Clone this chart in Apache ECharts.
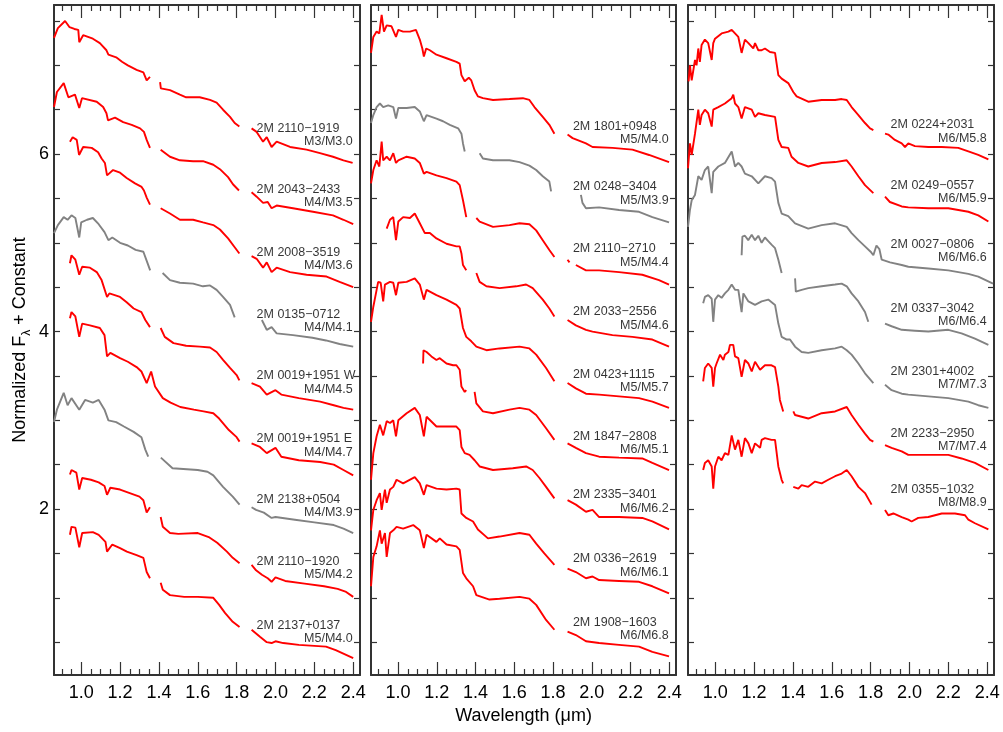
<!DOCTYPE html>
<html><head><meta charset="utf-8">
<script src="https://cdn.jsdelivr.net/npm/echarts@6/dist/echarts.min.js"></script>
<style>html,body{margin:0;padding:0;background:#fff}#c{width:1003px;height:732px}</style>
</head><body><div id="c"></div>
<script>
// ---------- axis values ----------
const X_MIN = 0.86, X_MAX = 2.435, Y_MIN = 0.13, Y_MAX = 7.68;
const xMajor = [1.0,1.2,1.4,1.6,1.8,2.0,2.2,2.4];
const xMinor = [0.9,0.95,1.05,1.1,1.15,1.25,1.3,1.35,1.45,1.5,1.55,1.65,1.7,1.75,1.85,1.9,1.95,2.05,2.1,2.15,2.25,2.3,2.35];
const yTicks = [0.5,1,1.5,2,2.5,3,3.5,4,4.5,5,5.5,6,6.5,7,7.5];
const yLabels = [2,4,6];

// ---------- panel 1 spectra: [wavelength, flux] segments ----------
const s_2110_1919 = [
 [[0.86,7.31],[0.88,7.42],[0.917,7.50],[0.94,7.43],[0.965,7.41],[0.985,7.40],[0.99,7.26],[1.01,7.34],[1.06,7.30],[1.096,7.25],[1.13,7.17],[1.14,7.12],[1.18,7.09],[1.21,7.04],[1.24,7.00],[1.285,6.95],[1.32,6.92],[1.337,6.83],[1.354,6.87]],
 [[1.406,6.81],[1.41,6.74],[1.457,6.72],[1.508,6.67],[1.54,6.64],[1.61,6.64],[1.663,6.61],[1.697,6.58],[1.73,6.50],[1.766,6.42],[1.79,6.35],[1.814,6.31]],
 [[1.877,6.29],[1.903,6.25],[1.936,6.14],[1.955,6.19],[1.98,6.08],[2.006,6.14],[2.075,6.08],[2.16,6.05],[2.229,6.01],[2.296,5.97],[2.35,5.93],[2.397,5.90]]];
const s_2043_2433 = [
 [[0.86,6.53],[0.875,6.70],[0.91,6.80],[0.934,6.64],[0.968,6.67],[0.99,6.52],[1.004,6.63],[1.08,6.59],[1.113,6.53],[1.13,6.46],[1.138,6.38],[1.174,6.41],[1.216,6.36],[1.26,6.33],[1.303,6.29],[1.323,6.25],[1.337,6.16],[1.354,6.07]],
 [[1.409,6.05],[1.457,5.97],[1.508,5.93],[1.576,5.92],[1.627,5.92],[1.68,5.88],[1.714,5.83],[1.756,5.74],[1.781,5.66],[1.812,5.59]],
 [[1.877,5.57],[1.903,5.52],[1.936,5.45],[1.96,5.46],[1.98,5.39],[2.006,5.42],[2.09,5.39],[2.193,5.35],[2.296,5.31],[2.35,5.26],[2.40,5.21]]];
const s_2008_3519 = [
 [[0.942,6.14],[0.956,6.19],[0.977,6.16],[0.989,5.99],[1.01,6.08],[1.054,6.07],[1.087,6.02],[1.105,5.95],[1.122,5.90],[1.133,5.76],[1.164,5.82],[1.20,5.79],[1.234,5.73],[1.277,5.67],[1.311,5.63],[1.323,5.59],[1.337,5.51],[1.354,5.43]],
 [[1.409,5.39],[1.457,5.33],[1.508,5.26],[1.576,5.26],[1.627,5.23],[1.68,5.20],[1.714,5.15],[1.756,5.05],[1.79,4.95],[1.814,4.88]],
 [[1.877,4.85],[1.903,4.82],[1.936,4.72],[1.955,4.78],[1.98,4.67],[2.006,4.72],[2.075,4.67],[2.16,4.64],[2.263,4.62],[2.33,4.56],[2.40,4.50]]];
const s_0135_0712 = [
 [[0.86,5.11],[0.88,5.20],[0.91,5.29],[0.93,5.26],[0.95,5.31],[0.97,5.28],[0.99,5.06],[1.00,5.23],[1.03,5.26],[1.06,5.28],[1.09,5.21],[1.12,5.12],[1.14,5.03],[1.16,5.06],[1.20,5.00],[1.24,4.97],[1.28,4.92],[1.32,4.90],[1.34,4.78],[1.355,4.69]],
 [[1.419,4.66],[1.457,4.58],[1.508,4.55],[1.576,4.54],[1.627,4.51],[1.663,4.52],[1.697,4.47],[1.73,4.39],[1.766,4.30],[1.79,4.16]],
 [[1.93,4.13],[1.955,4.02],[1.98,4.05],[2.006,3.98],[2.09,3.96],[2.19,3.93],[2.26,3.90],[2.33,3.86],[2.40,3.83]]];
const s_0019_1951W = [
 [[0.942,4.77],[0.95,4.86],[0.97,4.81],[0.99,4.64],[1.005,4.73],[1.045,4.72],[1.08,4.67],[1.105,4.58],[1.133,4.39],[1.145,4.43],[1.20,4.39],[1.234,4.33],[1.27,4.26],[1.31,4.22],[1.33,4.13],[1.354,4.05]],
 [[1.409,4.04],[1.43,3.94],[1.475,3.87],[1.54,3.84],[1.61,3.83],[1.663,3.82],[1.697,3.77],[1.73,3.68],[1.766,3.59],[1.80,3.51],[1.814,3.45]],
 [[1.877,3.42],[1.92,3.38],[1.955,3.29],[2.0,3.34],[2.03,3.29],[2.12,3.25],[2.23,3.21],[2.30,3.17],[2.35,3.14],[2.40,3.12]]];
const s_0019_1951E = [
 [[0.942,4.15],[0.95,4.22],[0.97,4.17],[0.99,3.94],[1.005,4.09],[1.045,4.07],[1.096,4.04],[1.12,3.96],[1.133,3.72],[1.15,3.76],[1.20,3.70],[1.24,3.66],[1.285,3.60],[1.31,3.55],[1.337,3.42],[1.36,3.55],[1.38,3.38],[1.42,3.25],[1.46,3.20],[1.51,3.15],[1.58,3.12],[1.63,3.10],[1.68,3.08],[1.71,3.02],[1.76,2.89],[1.80,2.81],[1.815,2.76]],
 [[1.877,2.74],[1.92,2.70],[1.955,2.63],[2.0,2.69],[2.03,2.59],[2.12,2.55],[2.23,2.53],[2.30,2.50],[2.35,2.44],[2.40,2.38]]];
const s_2138_0504 = [
 [[0.86,2.98],[0.875,3.12],[0.91,3.31],[0.93,3.17],[0.95,3.25],[0.99,3.12],[1.02,3.23],[1.06,3.20],[1.09,3.23],[1.12,3.12],[1.14,3.00],[1.18,2.98],[1.22,2.93],[1.27,2.87],[1.31,2.81],[1.33,2.67],[1.345,2.59]],
 [[1.41,2.58],[1.47,2.46],[1.6,2.44],[1.65,2.42],[1.68,2.38],[1.73,2.25],[1.78,2.14],[1.815,2.05]],
 [[1.877,2.02],[1.90,1.99],[1.94,1.96],[1.98,1.90],[2.0,1.91],[2.1,1.88],[2.2,1.85],[2.3,1.82],[2.35,1.78],[2.40,1.73]]];
const s_2110_1920 = [
 [[0.942,2.39],[0.95,2.44],[0.975,2.41],[0.99,2.22],[1.005,2.35],[1.05,2.33],[1.09,2.30],[1.12,2.26],[1.133,2.16],[1.15,2.24],[1.20,2.22],[1.25,2.18],[1.30,2.14],[1.32,2.10],[1.337,1.96],[1.354,2.02]],
 [[1.409,1.91],[1.42,1.80],[1.457,1.73],[1.5,1.72],[1.6,1.73],[1.66,1.68],[1.70,1.62],[1.75,1.52],[1.78,1.45],[1.815,1.39]],
 [[1.877,1.37],[1.90,1.31],[1.93,1.26],[1.96,1.22],[1.98,1.18],[2.0,1.23],[2.05,1.19],[2.15,1.16],[2.25,1.13],[2.32,1.10],[2.36,1.07],[2.40,1.01]]];
const s_2137_0137 = [
 [[0.942,1.71],[0.95,1.80],[0.97,1.79],[0.99,1.57],[1.005,1.73],[1.06,1.74],[1.09,1.71],[1.125,1.63],[1.133,1.52],[1.16,1.60],[1.20,1.56],[1.235,1.52],[1.285,1.48],[1.32,1.45],[1.337,1.29],[1.354,1.22]],
 [[1.409,1.17],[1.42,1.09],[1.457,1.03],[1.53,1.01],[1.6,1.01],[1.68,1.00],[1.71,0.92],[1.74,0.83],[1.78,0.73],[1.815,0.67]],
 [[1.877,0.64],[1.92,0.56],[1.955,0.50],[1.98,0.49],[2.0,0.51],[2.04,0.49],[2.12,0.47],[2.26,0.45],[2.31,0.41],[2.40,0.32]]];

// ---------- panel 2 spectra ----------
const s_1801_0948 = [
 [[0.86,7.14],[0.872,7.32],[0.889,7.38],[0.903,7.36],[0.915,7.57],[0.927,7.38],[0.941,7.45],[0.966,7.44],[0.989,7.32],[1.001,7.40],[1.026,7.38],[1.061,7.38],[1.092,7.40],[1.112,7.29],[1.125,7.19],[1.133,7.10],[1.145,7.19],[1.164,7.17],[1.198,7.12],[1.25,7.08],[1.301,7.04],[1.318,7.02],[1.327,6.89],[1.344,6.82],[1.365,6.86],[1.378,6.83],[1.395,6.72],[1.412,6.65],[1.438,6.63],[1.49,6.61],[1.575,6.62],[1.644,6.63],[1.678,6.61],[1.704,6.53],[1.747,6.42],[1.781,6.33],[1.807,6.23]],
 [[1.875,6.22],[1.901,6.18],[1.97,6.12],[2.004,6.08],[2.107,6.07],[2.21,6.05],[2.296,5.99],[2.399,5.91]]];
const s_0248_3404 = [
 [[0.86,6.35],[0.872,6.44],[0.889,6.53],[0.906,6.57],[0.923,6.53],[0.949,6.55],[0.975,6.53],[0.989,6.40],[1.001,6.52],[1.044,6.52],[1.086,6.53],[1.112,6.48],[1.133,6.37],[1.147,6.44],[1.198,6.40],[1.232,6.37],[1.267,6.33],[1.31,6.29],[1.327,6.23],[1.335,6.12],[1.344,6.03]],
 [[1.421,6.01],[1.438,5.95],[1.49,5.93],[1.575,5.93],[1.627,5.91],[1.678,5.87],[1.713,5.82],[1.747,5.75],[1.781,5.69],[1.79,5.58]],
 [[1.944,5.54],[1.952,5.45],[1.97,5.39],[2.038,5.40],[2.141,5.37],[2.244,5.35],[2.313,5.29],[2.399,5.23]]];
const s_2110_2710 = [
 [[0.86,5.67],[0.872,5.82],[0.889,5.93],[0.903,5.86],[0.915,6.14],[0.923,5.93],[0.941,5.97],[0.958,5.93],[0.975,6.01],[0.989,5.90],[1.001,5.93],[1.044,5.97],[1.086,5.95],[1.112,5.90],[1.133,5.78],[1.147,5.80],[1.198,5.76],[1.25,5.73],[1.301,5.69],[1.318,5.65],[1.335,5.48],[1.352,5.29]],
 [[1.404,5.28],[1.421,5.24],[1.49,5.18],[1.575,5.20],[1.627,5.22],[1.678,5.21],[1.713,5.14],[1.747,5.03],[1.781,4.92],[1.807,4.84]],
 [[1.875,4.81],[1.885,4.78]],
 [[1.918,4.75],[1.97,4.69],[2.038,4.69],[2.141,4.67],[2.261,4.64],[2.347,4.58],[2.399,4.53]]];
const s_2033_2556 = [
 [[0.941,5.16],[0.958,5.26],[0.975,5.29],[0.989,5.03],[1.001,5.24],[1.026,5.29],[1.061,5.28],[1.086,5.33],[1.112,5.22],[1.138,5.11],[1.164,5.11],[1.198,5.05],[1.25,4.99],[1.301,4.96],[1.318,4.96],[1.327,4.88],[1.335,4.75],[1.352,4.69]],
 [[1.404,4.66],[1.421,4.56],[1.456,4.51],[1.524,4.49],[1.61,4.51],[1.661,4.53],[1.695,4.49],[1.747,4.36],[1.781,4.26],[1.807,4.17]],
 [[1.875,4.13],[1.918,4.07],[1.97,4.02],[2.004,4.00],[2.107,3.96],[2.21,3.94],[2.313,3.91],[2.399,3.83]]];
const s_0423_1115 = [
 [[0.86,4.11],[0.872,4.28],[0.889,4.47],[0.897,4.56],[0.91,4.55],[0.923,4.34],[0.932,4.53],[0.958,4.56],[0.975,4.55],[0.989,4.41],[1.001,4.55],[1.044,4.56],[1.086,4.60],[1.112,4.53],[1.133,4.36],[1.147,4.47],[1.198,4.41],[1.25,4.36],[1.301,4.30],[1.318,4.26],[1.335,4.04],[1.352,3.94],[1.378,3.89],[1.404,3.83],[1.456,3.79],[1.524,3.81],[1.627,3.83],[1.678,3.81],[1.713,3.74],[1.764,3.59],[1.807,3.44]],
 [[1.875,3.42],[1.918,3.36],[1.97,3.30],[2.038,3.29],[2.141,3.27],[2.244,3.25],[2.313,3.21],[2.399,3.14]]];
const s_1847_2808 = [
 [[1.129,3.64],[1.131,3.79],[1.147,3.77],[1.172,3.72],[1.198,3.68],[1.215,3.70],[1.25,3.64],[1.284,3.62],[1.301,3.62],[1.318,3.57],[1.327,3.38],[1.344,3.32],[1.352,3.34]],
 [[1.395,3.32],[1.404,3.19],[1.438,3.10],[1.49,3.08],[1.575,3.12],[1.627,3.14],[1.678,3.12],[1.713,3.06],[1.764,2.91],[1.807,2.78]],
 [[1.875,2.74],[1.918,2.69],[1.97,2.63],[2.038,2.59],[2.141,2.58],[2.261,2.57],[2.313,2.52],[2.399,2.44]]];
const s_2335_3401 = [
 [[0.86,2.33],[0.872,2.63],[0.889,2.82],[0.906,2.95],[0.923,2.83],[0.941,2.99],[0.958,2.97],[0.975,3.00],[0.989,2.82],[1.001,3.00],[1.044,3.08],[1.086,3.14],[1.112,3.06],[1.133,2.82],[1.147,3.04],[1.198,2.93],[1.25,2.93],[1.301,2.93],[1.318,2.89],[1.327,2.70],[1.344,2.63],[1.369,2.61],[1.395,2.55],[1.421,2.48],[1.49,2.44],[1.592,2.46],[1.661,2.48],[1.695,2.44],[1.73,2.35],[1.764,2.25],[1.807,2.12]],
 [[1.875,2.10],[1.918,2.05],[1.97,1.97],[2.004,1.99],[2.038,1.91],[2.141,1.91],[2.261,1.90],[2.313,1.86],[2.399,1.77]]];
const s_0336_2619 = [
 [[0.86,1.76],[0.872,1.99],[0.889,2.10],[0.906,2.18],[0.915,1.99],[0.932,2.22],[0.941,2.07],[0.958,2.22],[0.975,2.25],[0.992,2.33],[1.026,2.29],[1.086,2.36],[1.112,2.29],[1.133,2.16],[1.147,2.27],[1.198,2.23],[1.25,2.22],[1.301,2.23],[1.318,2.22],[1.327,1.95],[1.352,1.90],[1.387,1.86],[1.412,1.77],[1.464,1.67],[1.524,1.69],[1.627,1.73],[1.678,1.71],[1.713,1.61],[1.755,1.50],[1.807,1.37]],
 [[1.875,1.33],[1.918,1.29],[1.97,1.22],[2.004,1.24],[2.038,1.20],[2.141,1.19],[2.244,1.18],[2.313,1.13],[2.399,1.05]]];
const s_1908_1603 = [
 [[0.86,1.13],[0.872,1.46],[0.889,1.58],[0.906,1.76],[0.915,1.61],[0.932,1.73],[0.941,1.46],[0.958,1.73],[0.975,1.76],[0.992,1.80],[1.026,1.78],[1.078,1.82],[1.086,1.84],[1.112,1.76],[1.133,1.56],[1.147,1.71],[1.198,1.63],[1.215,1.67],[1.25,1.60],[1.301,1.58],[1.318,1.54],[1.335,1.28],[1.352,1.22],[1.387,1.13],[1.404,1.03],[1.472,0.98],[1.524,0.99],[1.627,1.01],[1.678,0.99],[1.713,0.92],[1.764,0.75],[1.807,0.64]],
 [[1.875,0.62],[1.918,0.58],[1.97,0.51],[2.038,0.49],[2.141,0.47],[2.244,0.45],[2.313,0.39],[2.399,0.34]]];

// ---------- panel 3 spectra ----------
const s_0224_2031 = [
 [[0.863,6.82],[0.87,7.00],[0.879,6.83],[0.896,7.06],[0.904,7.00],[0.913,7.19],[0.921,7.04],[0.93,7.23],[0.947,7.29],[0.964,7.25],[0.982,7.06],[0.99,7.25],[0.999,7.30],[1.033,7.36],[1.068,7.38],[1.085,7.40],[1.102,7.36],[1.119,7.32],[1.136,7.14],[1.153,7.29],[1.171,7.25],[1.196,7.19],[1.205,7.25],[1.222,7.17],[1.239,7.17],[1.256,7.19],[1.282,7.15],[1.308,7.14],[1.325,6.89],[1.342,6.85],[1.376,6.80],[1.402,6.70],[1.419,6.65],[1.479,6.59],[1.548,6.61],[1.617,6.61],[1.651,6.62],[1.677,6.61],[1.702,6.53],[1.737,6.44],[1.771,6.35],[1.797,6.29],[1.814,6.27]],
 [[1.874,6.23],[1.891,6.22],[1.925,6.16],[1.96,6.12],[1.977,6.08],[1.994,6.12],[2.028,6.09],[2.097,6.08],[2.166,6.08],[2.251,6.07],[2.303,6.03],[2.354,5.99],[2.406,5.94]]];
const s_0249_0557 = [
 [[0.86,5.84],[0.87,6.12],[0.879,5.99],[0.896,6.23],[0.913,6.50],[0.921,6.33],[0.93,6.44],[0.947,6.50],[0.964,6.46],[0.982,6.31],[0.99,6.50],[1.016,6.53],[1.05,6.57],[1.085,6.63],[1.093,6.67],[1.102,6.57],[1.119,6.53],[1.136,6.40],[1.153,6.53],[1.188,6.50],[1.205,6.42],[1.222,6.46],[1.256,6.44],[1.308,6.42],[1.325,6.16],[1.342,6.08],[1.376,6.07],[1.393,5.97],[1.428,5.90],[1.479,5.86],[1.548,5.90],[1.617,5.91],[1.677,5.93],[1.702,5.86],[1.737,5.75],[1.771,5.65],[1.814,5.56]],
 [[1.874,5.52],[1.899,5.46],[1.96,5.41],[1.994,5.40],[2.097,5.39],[2.2,5.39],[2.303,5.35],[2.354,5.31],[2.406,5.24]]];
const s_0027_0806 = [
 [[0.86,5.18],[0.87,5.37],[0.879,5.48],[0.896,5.54],[0.913,5.75],[0.93,5.71],[0.947,5.82],[0.964,5.86],[0.982,5.56],[0.99,5.80],[1.016,5.86],[1.05,5.90],[1.085,6.03],[1.102,5.86],[1.119,5.90],[1.136,5.86],[1.153,5.78],[1.188,5.75],[1.222,5.67],[1.256,5.75],[1.29,5.73],[1.308,5.69],[1.325,5.45],[1.342,5.33],[1.376,5.30],[1.411,5.22],[1.479,5.16],[1.548,5.20],[1.617,5.22],[1.677,5.18],[1.702,5.11],[1.737,5.03],[1.771,4.96],[1.80,4.90],[1.814,4.86],[1.83,4.97],[1.845,4.93],[1.857,4.81],[1.90,4.78],[1.96,4.75],[1.994,4.73],[2.097,4.71],[2.2,4.69],[2.303,4.65],[2.354,4.62],[2.43,4.54]]];
const s_0337_3042 = [
 [[1.136,4.86],[1.14,5.07],[1.153,5.08],[1.17,5.03],[1.188,5.09],[1.205,5.03],[1.222,5.08],[1.239,5.00],[1.256,5.06],[1.273,5.02],[1.29,4.98],[1.308,4.94],[1.325,4.81],[1.342,4.66]],
 [[1.411,4.60],[1.415,4.45],[1.445,4.47],[1.479,4.49],[1.548,4.51],[1.617,4.53],[1.651,4.54],[1.677,4.51],[1.702,4.43],[1.737,4.34],[1.771,4.22],[1.788,4.11]],
 [[1.874,4.09],[1.908,4.06],[1.96,4.02],[2.028,4.01],[2.097,4.00],[2.2,4.02],[2.268,3.98],[2.337,3.92],[2.406,3.85]]];
const s_2301_4002 = [
 [[0.938,4.32],[0.947,4.39],[0.964,4.41],[0.982,4.37],[0.99,4.11],[0.999,4.36],[1.016,4.41],[1.033,4.38],[1.05,4.43],[1.068,4.47],[1.085,4.53],[1.102,4.47],[1.119,4.47],[1.136,4.22],[1.145,4.43],[1.171,4.34],[1.205,4.30],[1.239,4.34],[1.273,4.36],[1.308,4.30],[1.325,4.09],[1.342,3.94],[1.368,3.91],[1.385,3.91],[1.411,3.83],[1.445,3.77],[1.479,3.76],[1.548,3.79],[1.617,3.81],[1.651,3.83],[1.677,3.79],[1.702,3.74],[1.737,3.64],[1.771,3.53],[1.814,3.42]],
 [[1.874,3.40],[1.908,3.34],[1.96,3.30],[1.994,3.29],[2.097,3.27],[2.2,3.25],[2.303,3.21],[2.354,3.17],[2.406,3.14]]];
const s_2233_2950 = [
 [[0.938,3.44],[0.947,3.59],[0.964,3.64],[0.982,3.59],[0.99,3.38],[0.999,3.59],[1.007,3.64],[1.025,3.74],[1.042,3.68],[1.05,3.74],[1.068,3.77],[1.076,3.85],[1.093,3.85],[1.102,3.72],[1.119,3.70],[1.136,3.49],[1.153,3.68],[1.171,3.64],[1.188,3.55],[1.205,3.66],[1.231,3.57],[1.256,3.62],[1.29,3.62],[1.308,3.60],[1.325,3.38],[1.333,3.23],[1.35,3.10]],
 [[1.402,3.10],[1.411,3.06],[1.445,3.04],[1.479,3.02],[1.548,3.08],[1.617,3.10],[1.677,3.15],[1.702,3.06],[1.737,2.95],[1.771,2.85],[1.797,2.78],[1.814,2.76]],
 [[1.874,2.72],[1.908,2.69],[1.96,2.65],[1.994,2.61],[2.097,2.61],[2.2,2.61],[2.268,2.57],[2.337,2.52],[2.406,2.44]]];
const s_0355_1032 = [
 [[0.938,2.44],[0.947,2.52],[0.964,2.55],[0.982,2.48],[0.99,2.23],[0.999,2.48],[1.016,2.59],[1.033,2.55],[1.05,2.63],[1.068,2.61],[1.085,2.83],[1.102,2.67],[1.119,2.78],[1.136,2.59],[1.153,2.80],[1.171,2.74],[1.188,2.63],[1.205,2.74],[1.231,2.69],[1.239,2.78],[1.256,2.80],[1.29,2.78],[1.308,2.78],[1.325,2.48],[1.342,2.33],[1.35,2.29]],
 [[1.402,2.25],[1.428,2.23],[1.445,2.27],[1.479,2.25],[1.514,2.31],[1.548,2.29],[1.582,2.33],[1.617,2.37],[1.651,2.40],[1.677,2.44],[1.702,2.37],[1.737,2.25],[1.771,2.18],[1.805,2.05]],
 [[1.874,1.99],[1.891,1.93],[1.917,1.95],[1.96,1.91],[1.994,1.88],[2.011,1.86],[2.045,1.90],[2.097,1.91],[2.166,1.95],[2.234,1.95],[2.286,1.93],[2.303,1.88],[2.337,1.84],[2.406,1.77]]];

// ---------- per-panel lists ----------
const p1Spec = [s_2110_1919,s_2043_2433,s_2008_3519,s_0135_0712,s_0019_1951W,s_0019_1951E,s_2138_0504,s_2110_1920,s_2137_0137];
const p1Names = ['2M 2110\u22121919','2M 2043\u22122433','2M 2008\u22123519','2M 0135\u22120712','2M 0019+1951 W','2M 0019+1951 E','2M 2138+0504','2M 2110\u22121920','2M 2137+0137'];
const p1Types = ['M3/M3.0','M4/M3.5','M4/M3.6','M4/M4.1','M4/M4.5','M4/M4.7','M4/M3.9','M5/M4.2','M5/M4.0'];
const p1LabelY = [6.29,5.60,4.89,4.19,3.50,2.79,2.11,1.41,0.69];
const p1Kind = ['r','r','r','g','r','r','g','r','r'];

const p2Spec = [s_1801_0948,s_0248_3404,s_2110_2710,s_2033_2556,s_0423_1115,s_1847_2808,s_2335_3401,s_0336_2619,s_1908_1603];
const p2Names = ['2M 1801+0948','2M 0248\u22123404','2M 2110\u22122710','2M 2033\u22122556','2M 0423+1115','2M 1847\u22122808','2M 2335\u22123401','2M 0336\u22122619','2M 1908\u22121603'];
const p2Types = ['M5/M4.0','M5/M3.9','M5/M4.4','M5/M4.6','M5/M5.7','M6/M5.1','M6/M6.2','M6/M6.1','M6/M6.8'];
const p2LabelY = [6.31,5.63,4.93,4.22,3.52,2.82,2.16,1.44,0.72];
const p2Kind = ['r','g','r','r','r','r','r','r','r'];

const p3Spec = [s_0224_2031,s_0249_0557,s_0027_0806,s_0337_3042,s_2301_4002,s_2233_2950,s_0355_1032];
const p3Names = ['2M 0224+2031','2M 0249\u22120557','2M 0027\u22120806','2M 0337\u22123042','2M 2301+4002','2M 2233\u22122950','2M 0355\u22121032'];
const p3Types = ['M6/M5.8','M6/M5.9','M6/M6.6','M6/M6.4','M7/M7.3','M7/M7.4','M8/M8.9'];
const p3LabelY = [6.33,5.65,4.98,4.26,3.55,2.85,2.22];
const p3Kind = ['r','r','g','g','g','r','r'];

// ---------- build chart ----------
const FONT = '"Liberation Sans", Arial, Helvetica, sans-serif';
const AX = '#333', TXT = '#000', RED = '#ff0000', GRAY = '#828282';
const NAME_X = 1.9, TYPE_X = 2.4, TYPE_DY = 0.15;
const panels = [
  {spec:p1Spec, names:p1Names, types:p1Types, ly:p1LabelY, kind:p1Kind, left:54, width:306},
  {spec:p2Spec, names:p2Names, types:p2Types, ly:p2LabelY, kind:p2Kind, left:371, width:305},
  {spec:p3Spec, names:p3Names, types:p3Types, ly:p3LabelY, kind:p3Kind, left:688, width:306}
];
function toData(segs){
  const out=[];
  segs.forEach((s,i)=>{ if(i>0) out.push([s[0][0]-0.001,'-']); s.forEach(p=>out.push(p)); });
  return out;
}
const grid=[], xAxis=[], yAxis=[], series=[];
const lineSt = {color:AX, width:2};
const tickSt = {color:AX, width:1.2};
panels.forEach((P,i)=>{
  grid.push({left:P.left, top:5, width:P.width, height:670, containLabel:false, outerBoundsMode:'none'});
  const xb = {type:'value', gridIndex:i, min:X_MIN, max:X_MAX, splitLine:{show:false},
              axisLine:{show:false,onZero:false}, axisLabel:{show:false}, axisTick:{show:false}};
  xAxis.push(Object.assign({}, xb, {position:'bottom',
     axisLine:{show:true,onZero:false,lineStyle:lineSt},
     axisTick:{show:true,inside:true,length:13,customValues:xMajor,lineStyle:tickSt},
     axisLabel:{show:true,customValues:xMajor,formatter:v=>Number(v).toFixed(1),fontSize:18,color:TXT,margin:9,fontFamily:FONT},
     name: i===1 ? 'Wavelength (\u03bcm)' : '', nameLocation:'middle', nameGap:29,
     nameTextStyle:{fontSize:18,color:TXT,fontFamily:FONT}}));
  xAxis.push(Object.assign({}, xb, {position:'bottom',
     axisTick:{show:true,inside:true,length:6,customValues:xMinor,lineStyle:tickSt}}));
  xAxis.push(Object.assign({}, xb, {position:'top',
     axisLine:{show:true,onZero:false,lineStyle:lineSt},
     axisTick:{show:true,inside:true,length:13,customValues:xMajor,lineStyle:tickSt}}));
  xAxis.push(Object.assign({}, xb, {position:'top',
     axisTick:{show:true,inside:true,length:6,customValues:xMinor,lineStyle:tickSt}}));
  const yb = {type:'value', gridIndex:i, min:Y_MIN, max:Y_MAX, splitLine:{show:false},
     axisLine:{show:true,onZero:false,lineStyle:lineSt},
     axisTick:{show:true,inside:true,length:6,customValues:yTicks,lineStyle:tickSt}};
  yAxis.push(Object.assign({}, yb, {position:'left',
     axisLabel:{show:i===0,customValues:yLabels,fontSize:18,color:TXT,margin:5,fontFamily:FONT},
     name: i===0 ? 'Normalized F{s|\u03bb} + Constant' : '', nameLocation:'middle', nameGap:21, nameRotate:90,
     nameTextStyle:{fontSize:18,color:TXT,fontFamily:FONT,
        rich:{s:{fontSize:12,fontFamily:FONT,color:TXT,verticalAlign:'bottom',lineHeight:26}}}}));
  yAxis.push(Object.assign({}, yb, {position:'right', axisLabel:{show:false}}));

  P.spec.forEach((segs,k)=>{
    series.push({type:'line', xAxisIndex:4*i, yAxisIndex:2*i, data:toData(segs),
      showSymbol:false, symbol:'none', silent:true, connectNulls:false, z:2,
      lineStyle:{color: P.kind[k]==='g' ? GRAY : RED, width:1.9}});
  });
  series.push({type:'scatter', xAxisIndex:4*i, yAxisIndex:2*i, symbolSize:1, silent:true, z:5,
    itemStyle:{color:'rgba(0,0,0,0)'},
    data:P.names.map((n,k)=>[NAME_X, P.ly[k], n]),
    label:{show:true, position:'right', distance:0, formatter:p=>p.data[2], fontSize:12.5, color:TXT, fontFamily:FONT}});
  series.push({type:'scatter', xAxisIndex:4*i, yAxisIndex:2*i, symbolSize:1, silent:true, z:5,
    itemStyle:{color:'rgba(0,0,0,0)'},
    data:P.types.map((t,k)=>[TYPE_X, P.ly[k]-TYPE_DY, t]),
    label:{show:true, position:'left', distance:0, formatter:p=>p.data[2], fontSize:12.5, color:TXT, fontFamily:FONT}});
});

const chart = echarts.init(document.getElementById('c'), null, {renderer:'canvas'});
chart.setOption({
  animation:false, backgroundColor:'#fff',
  textStyle:{fontFamily:FONT},
  grid, xAxis, yAxis, series
});
</script>
</body></html>
